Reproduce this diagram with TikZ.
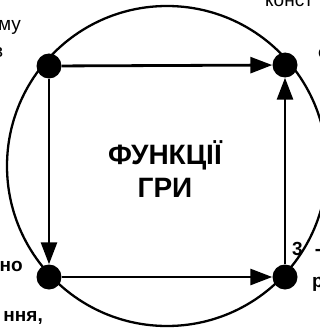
\documentclass[tikz,border=0pt]{standalone}
\usepackage{fontspec}
\setmainfont{Liberation Sans}
\usetikzlibrary{arrows.meta}
\begin{document}
\begin{tikzpicture}[x=1pt,y=-1pt,
    dot/.style={circle,fill=black,inner sep=0pt,minimum size=25pt},
    arr/.style={line width=2.8pt,-{Triangle[length=22pt 0 0,width=16pt 0 0]}},
    lbl/.style={inner sep=0pt,font=\fontsize{19}{22}\selectfont},
    blbl/.style={inner sep=0pt,font=\fontsize{19}{22}\selectfont\bfseries}]
  \useasboundingbox (0,0) rectangle (320,329);

  % Circle
  \draw[line width=2.3pt] (167,166) circle (160);

  % Dots
  \node[dot] (tl) at (49,66) {};
  \node[dot] (tr) at (285,65) {};
  \node[dot] (bl) at (49,277) {};
  \node[dot] (br) at (285,277) {};

  % Arrows
  \draw[arr] (tl) -- (tr);
  \draw[arr] (tl) -- (bl);
  \draw[arr] (bl) -- (br);
  \draw[arr] (br) -- (tr);

  % Centre text
  \node[align=center,font=\fontsize{28}{33}\selectfont\bfseries] (title) at (165,169) {ФУНКЦІЇ\\ГРИ};

  % Labels (cut off at the edges)
  \node[lbl,anchor=base east] (tlA) at (21,31) {му};
  \node[lbl,anchor=base east] (tlB) at (3.5,58) {в};
  \node[lbl,anchor=base west] (trA) at (265,7) {конст};
  \node[blbl,anchor=base west] (trB) at (318,59) {о};
  \node[blbl,anchor=base east] (blA) at (23,271) {но};
  \node[blbl,anchor=base east] (blB) at (43,321) {ння,};
  \node[blbl,anchor=base west] (brA) at (292,255) {3\hspace{12pt}-};
  \node[blbl,anchor=base west] (brB) at (312,287) {р};
\end{tikzpicture}
\end{document}
